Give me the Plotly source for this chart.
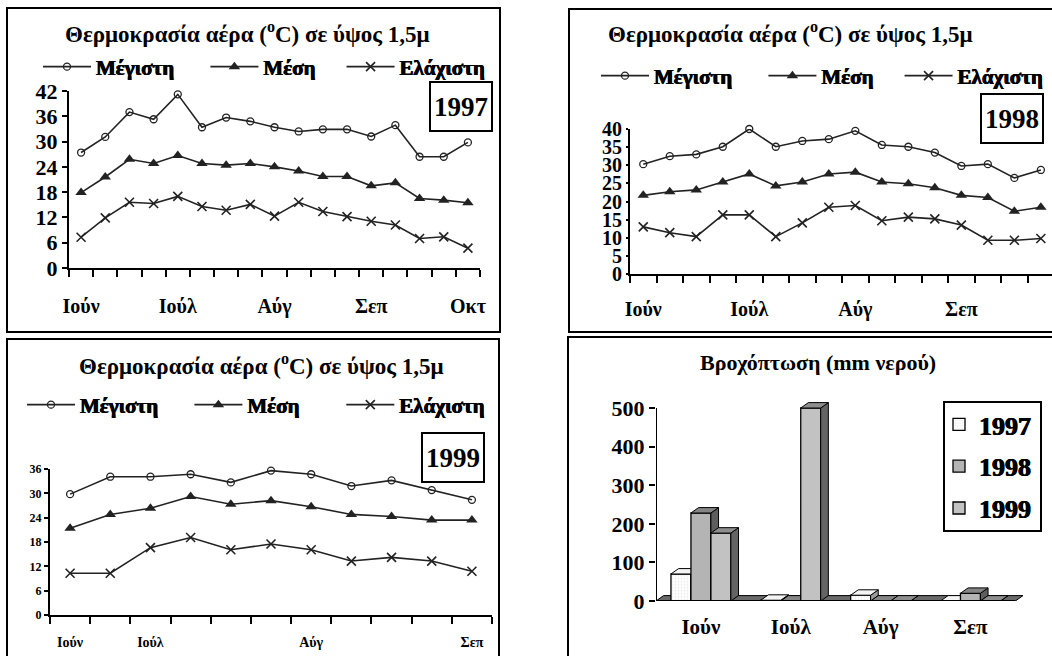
import plotly.graph_objects as go

W, H = 1052, 656

# ---------------- data ----------------
series_names = ["Μέγιστη", "Μέση", "Ελάχιστη"]

max_1997 = [27.4, 31.1, 37.0, 35.3, 41.2, 33.4, 35.7, 34.8, 33.4, 32.4, 32.9, 32.9, 31.2, 33.9, 26.4, 26.4, 29.8]
mean_1997 = [17.9, 21.6, 25.8, 24.8, 26.7, 24.8, 24.4, 24.8, 24.0, 23.0, 21.7, 21.7, 19.5, 20.2, 16.5, 16.1, 15.5]
min_1997 = [7.3, 11.9, 15.6, 15.3, 17.0, 14.6, 13.7, 15.1, 12.3, 15.6, 13.4, 12.2, 11.1, 10.2, 7.0, 7.4, 4.7]
labels_1997 = ["Ιούν", "Ιούλ", "Αύγ", "Σεπ", "Οκτ"]
label_idx_1997 = [0, 4, 8, 12, 16]

max_1998 = [30.3, 32.5, 33.0, 35.1, 40.0, 35.1, 36.7, 37.2, 39.5, 35.6, 35.1, 33.5, 29.8, 30.3, 26.5, 28.7]
mean_1998 = [21.7, 22.7, 23.2, 25.4, 27.6, 24.3, 25.4, 27.6, 28.1, 25.4, 24.9, 23.8, 21.7, 21.1, 17.3, 18.4]
min_1998 = [13.0, 11.4, 10.3, 16.3, 16.3, 10.3, 14.1, 18.4, 18.9, 14.7, 15.7, 15.2, 13.5, 9.3, 9.3, 9.8]
labels_1998 = ["Ιούν", "Ιούλ", "Αύγ", "Σεπ"]
label_idx_1998 = [0, 4, 8, 12]

max_1999 = [29.8, 34.1, 34.1, 34.7, 32.7, 35.6, 34.7, 31.8, 33.2, 30.8, 28.4]
mean_1999 = [21.4, 24.8, 26.3, 29.2, 27.3, 28.2, 26.7, 24.8, 24.3, 23.4, 23.4]
min_1999 = [10.3, 10.3, 16.6, 19.1, 16.1, 17.5, 16.1, 13.3, 14.2, 13.3, 10.8]
labels_1999 = ["Ιούν", "Ιούλ", "Αύγ", "Σεπ"]
label_idx_1999 = [0, 2, 6, 10]

rain_months = ["Ιούν", "Ιούλ", "Αύγ", "Σεπ"]
rain_years = ["1997", "1998", "1999"]
rain_1997 = [70, 2, 15, 0]
rain_1998 = [228, 0, 0, 20]
rain_1999 = [176, 500, 0, 0]

title_temp = "Θερμοκρασία αέρα (<sup>o</sup>C) σε ύψος 1,5μ"
title_rain = "Βροχόπτωση (mm νερού)"

# ---------------- helpers ----------------
FONT = "Liberation Serif, DejaVu Serif, serif"
NB = "\u00a0"


def xd(a, b):
    return [a / W, b / W]


def yd(top, bottom):
    return [1 - bottom / H, 1 - top / H]


def px(x):
    return x / W


def py(y):
    return 1 - y / H


def bfont(size):
    return dict(family=FONT, size=size, color="black", weight=700)


def lfont(size):
    return dict(family="Liberation Serif", size=size, color="black", weight="bold",
                shadow="0.45px 0 0 #000, -0.45px 0 0 #000")


fig = go.Figure()

styles = [
    dict(symbol="circle-open", size=7, color="#222", line=dict(width=1.3, color="#222")),
    dict(symbol="triangle-up", size=10, color="#222"),
    dict(symbol="x-thin-open", size=9, color="#222", line=dict(width=1.6, color="#222")),
]


def add_temp(series, xa, ya, legend_id, pads):
    for name, vals, st, pad in zip(series_names, series, styles, pads):
        fig.add_trace(go.Scatter(
            x=list(range(len(vals))), y=vals, name="<b>" + name + "</b>" + NB * pad,
            mode="lines+markers",
            line=dict(color="#222", width=1.6), marker=st, xaxis=xa, yaxis=ya,
            legend=legend_id, cliponaxis=False, hoverinfo="skip"))


add_temp([max_1997, mean_1997, min_1997], "x", "y", "legend", [5, 4, 0])
add_temp([max_1998, mean_1998, min_1998], "x2", "y2", "legend2", [5, 4, 0])
add_temp([max_1999, mean_1999, min_1999], "x3", "y3", "legend3", [5, 7, 0])

# ---------- rainfall (pseudo 3D) ----------
bargap = 1 / 3
bw = (1 - bargap) / 3
dx = 0.085
dy = 14
front_cols = ["#ffffff", "#b4b4b4", "#c2c2c2"]
top_cols = ["#f4f4f4", "#858585", "#8e8e8e"]
side_cols = ["#9a9a9a", "#5e5e5e", "#646464"]
rain_axes = [("x4", "y4"), ("x5", "y5"), ("x6", "y6")]

for j, (yr, vals) in enumerate(zip(rain_years, [rain_1997, rain_1998, rain_1999])):
    xa, ya = rain_axes[j]
    off = -(1 - bargap) / 2 + j * bw
    marker = dict(color=front_cols[j], line=dict(color="black", width=1.3))
    if j == 0:
        marker["pattern"] = dict(shape=".", fgcolor="#d8d8d8", size=3, solidity=0.3)
    fig.add_trace(go.Bar(
        x=list(range(len(vals))), y=vals, name="<b>" + yr + "</b>", width=bw, offset=off,
        marker=marker, xaxis=xa, yaxis=ya, legend="legend4", hoverinfo="skip",
        legendgroup=yr))
    tx, ty, sx, sy = [], [], [], []
    for i, v in enumerate(vals):
        l = i + off
        r = l + bw
        tx += [l, l + dx, r + dx, r, l, None]
        ty += [v, v + dy, v + dy, v, v, None]
        sx += [r, r + dx, r + dx, r, r, None]
        sy += [0, dy, v + dy, v, 0, None]
    fig.add_trace(go.Scatter(x=sx, y=sy, mode="lines", fill="toself", fillcolor=side_cols[j],
                             line=dict(color="black", width=1), xaxis=xa, yaxis=ya,
                             showlegend=False, hoverinfo="skip"))
    fig.add_trace(go.Scatter(x=tx, y=ty, mode="lines", fill="toself", fillcolor=top_cols[j],
                             line=dict(color="black", width=1), xaxis=xa, yaxis=ya,
                             showlegend=False, hoverinfo="skip"))

# ---------------- axes ----------------
axis_common = dict(showgrid=False, zeroline=False, showline=True, linecolor="black",
                   linewidth=2, tickcolor="black", tickwidth=2)


def temp_x(n, idx, labels, dom, rng=None, fsize=19, standoff=24):
    d = dict(axis_common)
    d.update(domain=dom, range=rng if rng else [-0.5, n - 0.5], tickmode="array",
             tickvals=idx, ticktext=labels, ticks="", ticklabelstandoff=standoff,
             minor=dict(ticks="outside", ticklen=7, tickcolor="black", tickwidth=2,
                        tick0=0.5, dtick=1, showgrid=False),
             tickfont=bfont(fsize))
    return d


def temp_y(rng, dtick, dom, anchor, fsize=19, ticklen=5):
    d = dict(axis_common)
    d.update(domain=dom, range=rng, dtick=dtick, ticks="outside", ticklen=ticklen,
             anchor=anchor, tickfont=bfont(fsize))
    return d


layout = dict(
    width=W, height=H, margin=dict(l=0, r=0, t=0, b=0, autoexpand=False),
    paper_bgcolor="white", plot_bgcolor="rgba(0,0,0,0)", showlegend=True,
    font=dict(family=FONT, color="black"),
)

x1 = temp_x(17, label_idx_1997, labels_1997, xd(69, 480), fsize=20, standoff=19)
x1["anchor"] = "y"
y1 = temp_y([0, 42], 6, yd(91, 268), "x", fsize=22)

x2 = temp_x(17, label_idx_1998, labels_1998, xd(630, 1052), rng=[-0.5, 15.42], fsize=20, standoff=16)
x2["anchor"] = "y2"
y2 = temp_y([0, 40], 5, yd(129, 274), "x2", fsize=20, ticklen=2)

x3 = temp_x(11, label_idx_1999, labels_1999, xd(50, 492), fsize=14, standoff=13)
x3["anchor"] = "y3"
y3 = temp_y([0, 36], 6, yd(469, 615), "x3", fsize=12, ticklen=4)

# rain axes
rain_xrange = [-0.5, 3.5 + dx]
rain_yrange = [0, 520]
rain_ydom = [1 - 601 / H, 1 - (601 - 520 * 193 / 500) / H]
x4 = dict(axis_common)
x4.update(domain=xd(656, 1016 + 7), range=rain_xrange, anchor="y4", tickmode="array",
          tickvals=list(range(len(rain_months))), ticktext=rain_months, ticks="",
          showline=False, ticklabelstandoff=11, tickfont=bfont(21))
y4 = dict(axis_common)
y4.update(domain=rain_ydom, range=rain_yrange, anchor="x4", tickmode="array",
          tickvals=[0, 100, 200, 300, 400, 500], ticks="outside", ticklen=6, showline=False,
          tickfont=bfont(22))
hidden = dict(visible=False, showgrid=False, zeroline=False)
x5 = dict(hidden, overlaying="x4", range=rain_xrange, anchor="y5")
y5 = dict(hidden, overlaying="y4", range=rain_yrange, anchor="x5")
x6 = dict(hidden, overlaying="x4", range=rain_xrange, anchor="y6")
y6 = dict(hidden, overlaying="y4", range=rain_yrange, anchor="x6")

layout.update(xaxis=x1, yaxis=y1, xaxis2=x2, yaxis2=y2, xaxis3=x3, yaxis3=y3,
              xaxis4=x4, yaxis4=y4, xaxis5=x5, yaxis5=y5, xaxis6=x6, yaxis6=y6)


def hleg(x, y):
    return dict(orientation="h", x=px(x), y=py(y), xanchor="left", yanchor="middle",
                font=lfont(21), bgcolor="rgba(0,0,0,0)", borderwidth=0, itemwidth=48,
                itemclick=False, itemdoubleclick=False)


layout.update(
    legend=hleg(38, 67),
    legend2=hleg(596, 76),
    legend3=hleg(22, 405),
    legend4=dict(orientation="v", x=px(939), y=py(401), xanchor="left", yanchor="top",
                 font=lfont(26), bgcolor="rgba(0,0,0,0)", borderwidth=0, tracegroupgap=5,
                 traceorder="grouped", itemclick=False, itemdoubleclick=False),
)

fig.update_layout(**layout)

# ---------------- decorations ----------------
shapes = []
for (x0, y0, x1_, y1_) in [(7, 8, 500, 332), (569, 9, 1070, 332), (7, 339, 499, 670),
                           (568, 337, 1070, 670), (944, 402, 1041, 531)]:
    shapes.append(dict(type="rect", xref="paper", yref="paper", x0=px(x0), x1=px(x1_),
                       y0=py(y0), y1=py(y1_), line=dict(color="black", width=2), layer="below"))
# 3D floor of the rainfall chart
shapes.append(dict(type="path", xref="x4", yref="y4", layer="below",
                   path=f"M -0.5 0 L {3.5} 0 L {3.5 + dx} {dy} L {-0.5 + dx} {dy} Z",
                   fillcolor="#6a6a6a", line=dict(color="black", width=1)))
# y axis and base line of the rainfall chart
shapes.append(dict(type="line", xref="x4", yref="y4", x0=-0.5, x1=-0.5, y0=0, y1=500,
                   line=dict(color="black", width=2)))
shapes.append(dict(type="line", xref="x4", yref="y4", x0=-0.5, x1=3.5, y0=0, y1=0,
                   line=dict(color="black", width=2)))
fig.update_layout(shapes=shapes)

annots = [
    dict(text=title_temp, x=px(247), y=py(33), font=bfont(23)),
    dict(text=title_temp, x=px(790), y=py(32), font=bfont(23)),
    dict(text=title_temp, x=px(261), y=py(364), font=bfont(23)),
    dict(text=title_rain, x=px(818), y=py(362), font=bfont(22)),
]
for yr, cx, cy in [("1997", 461, 107), ("1998", 1012, 118), ("1999", 453, 458)]:
    annots.append(dict(text=yr, x=px(cx), y=py(cy), font=bfont(27),
                       bordercolor="black", borderwidth=2, borderpad=0, width=60, height=47,
                       bgcolor="white"))
for a in annots:
    a.update(xref="paper", yref="paper", showarrow=False, xanchor="center", yanchor="middle")
fig.update_layout(annotations=annots)

post = """
document.body.style.margin='0';
document.body.style.overflow='hidden';
function boldLegends(){
  document.querySelectorAll('text.legendtext').forEach(function(e){
    e.setAttribute('font-weight', 'bold');
    e.style.setProperty('font-weight', 'bold', 'important');
  });
}
boldLegends();
setTimeout(boldLegends, 50);
setTimeout(boldLegends, 300);
"""
fig.write_html("out.html", config={"displayModeBar": False}, post_script=post)
